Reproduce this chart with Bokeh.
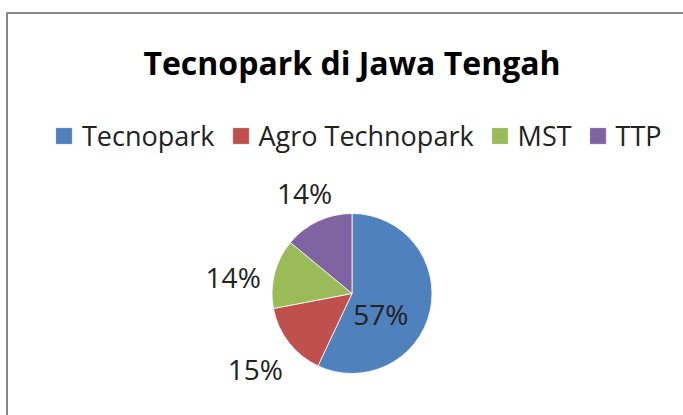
import numpy as np
from bokeh.plotting import figure, ColumnDataSource
from bokeh.models import Range1d, Legend, LegendItem, Label
from bokeh.core.properties import value
from bokeh.embed import file_html
from bokeh.resources import INLINE

# ---- data ----
title_text = "Tecnopark di Jawa Tengah"
categories = ["Tecnopark", "Agro Technopark", "MST", "TTP"]
percents = [57, 15, 14, 14]
colors = ["#4F81BD", "#C0504D", "#9BBB59", "#8064A2"]

# ---- layout / style ----
W, H = 683, 415
cx, cy, R = 351.5, H - 293, 80
label_radius = [0.44, 1.53, 1.5, 1.39]       # label distance as fraction of radius
label_angle_shift = [0.39, 0.0, -0.11, 0.0]  # radians, shift in clockwise direction
font = "Open Sans"

vals = np.array(percents, dtype=float)
frac = vals / vals.sum()
cum = np.cumsum(frac)
prev = cum - frac
start = np.pi / 2 - prev * 2 * np.pi
end = np.pi / 2 - cum * 2 * np.pi
mid = (start + end) / 2 - np.array(label_angle_shift)
lr = np.array(label_radius) * R
lx = cx + lr * np.cos(mid)
ly = cy + lr * np.sin(mid)

src = ColumnDataSource(dict(name=categories, start=start, end=end, color=colors,
                            lx=lx, ly=ly, lab=[f"{p}%" for p in percents]))

p = figure(width=W, height=H, output_backend="svg", toolbar_location=None,
           x_range=Range1d(0, W), y_range=Range1d(0, H), min_border=0)
p.axis.visible = False
p.grid.visible = False
p.outline_line_color = None
p.background_fill_color = "white"
p.border_fill_color = "white"

# chart area border
p.quad(left=[6.5], right=[W + 20], top=[H - 12.5], bottom=[-20],
       fill_color=None, line_color="#878787", line_width=2)

r = p.wedge(x=cx, y=cy, radius=R, radius_units="screen", start_angle="start", end_angle="end",
            direction="clock", fill_color="color", line_color="white", line_width=0.8, source=src)

p.text(x="lx", y="ly", text="lab", source=src, text_font=value(font), text_font_size="28px",
       text_align="center", text_baseline="middle", text_color="#222222")

p.add_layout(Label(x=cx, y=H - 62, text=title_text, text_font=font, text_font_size="32px",
                   text_font_style="bold", text_align="center", text_baseline="alphabetic",
                   text_color="#000000"))

items = [LegendItem(label=c, renderers=[r], index=i) for i, c in enumerate(categories)]
legend = Legend(items=items, orientation="horizontal", location=(53, H - 154),
                label_text_font=font, label_text_font_size="27px", label_text_color="#222222",
                glyph_width=21, glyph_height=21, label_standoff=8, spacing=15,
                padding=0, margin=0, border_line_color=None, background_fill_alpha=0)
p.add_layout(legend, "center")

open("out.html", "w").write(file_html(p, INLINE))
